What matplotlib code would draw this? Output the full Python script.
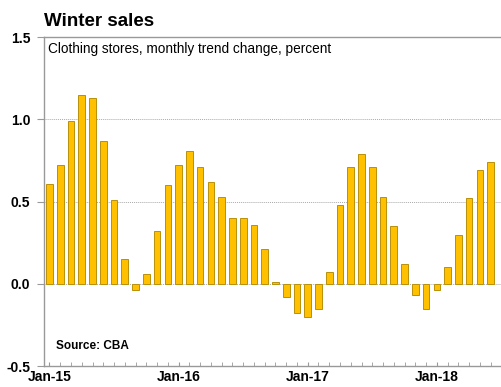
import matplotlib.pyplot as plt
import numpy as np

plt.rcParams['font.family'] = ['Liberation Sans', 'DejaVu Sans']

# monthly trend change, Jan-15 .. Jun-18
values = [0.61, 0.72, 0.99, 1.15, 1.13, 0.87, 0.51, 0.15, -0.04, 0.06, 0.32, 0.60,
          0.72, 0.81, 0.71, 0.62, 0.53, 0.40, 0.40, 0.36, 0.21, 0.01, -0.08, -0.18,
          -0.20, -0.15, 0.07, 0.48, 0.71, 0.79, 0.71, 0.53, 0.35, 0.12, -0.07, -0.15,
          -0.04, 0.10, 0.30, 0.52, 0.69, 0.74]
tick_labels = ['Jan-15', 'Jan-16', 'Jan-17', 'Jan-18']
tick_pos = [0, 12, 24, 36]

x = np.arange(len(values))

fig = plt.figure(figsize=(5.01, 3.87), dpi=100)
ax = fig.add_axes([0.088, 0.054, 0.915, 0.85])

ax.bar(x, values, width=0.62, color='#FFC000', edgecolor='#B8900A', linewidth=0.7, zorder=3)

ax.set_xlim(-0.5, 42.1)
ax.set_ylim(-0.5, 1.5)
ax.set_yticks([-0.5, 0.0, 0.5, 1.0, 1.5])
ax.set_yticklabels(['-0.5', '0.0', '0.5', '1.0', '1.5'], fontweight='bold', fontsize=10)
ax.set_xticks(tick_pos)
ax.set_xticklabels(tick_labels, fontweight='bold', fontsize=10)
ax.set_xticks(x, minor=True)
ax.tick_params(axis='x', which='both', direction='in', length=3, color='#999999', pad=3)
ax.tick_params(axis='y', direction='out', length=5, color='#999999', pad=5)

for y in [0.0, 0.5, 1.0]:
    ax.axhline(y, color='#aaaaaa', lw=0.7, ls=(0, (1, 1)), zorder=1)

for s in ax.spines.values():
    s.set_color('#999999')
    s.set_linewidth(1.0)
ax.spines['right'].set_visible(False)

fig.text(0.088, 0.933, 'Winter sales', fontsize=13.5, fontweight='bold', va='baseline', ha='left')
ax.text(0.008, 0.985, 'Clothing stores, monthly trend change, percent', transform=ax.transAxes,
        fontsize=9.8, va='top', ha='left')
ax.text(0.025, 0.06, 'Source: CBA', transform=ax.transAxes, fontsize=8.5,
        fontweight='bold', va='center', ha='left')

plt.savefig('out.png', dpi=100)
